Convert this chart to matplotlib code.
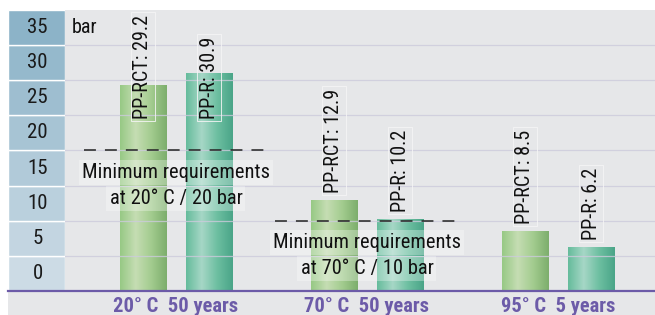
import numpy as np
import matplotlib
matplotlib.use("Agg")
import matplotlib.pyplot as plt
from matplotlib.colors import LinearSegmentedColormap
from matplotlib.patches import Rectangle

plt.rcParams['font.family'] = ['Roboto Condensed', 'DejaVu Sans']

### data
groups = ["20° C  50 years", "70° C  50 years", "95° C  5 years"]
pp_rct = [29.2, 12.9, 8.5]
pp_r = [30.9, 10.2, 6.2]
req_values = [20, 10]
req_labels = ["Minimum requirements\nat 20° C / 20 bar",
              "Minimum requirements\nat 70° C / 10 bar"]
band_ticks = [0, 5, 10, 15, 20, 25, 30, 35]
unit = "bar"

### colours
bg_gray = "#e6e7e9"
purple = "#6c5ba8"
grid_col = "#cccbdc"
cmap_rct = LinearSegmentedColormap.from_list(
    "rct", ["#97c985", "#c5ddb3", "#a3cc8f", "#7dae6d"])
cmap_r = LinearSegmentedColormap.from_list(
    "r", ["#66bc9c", "#a6d7c6", "#6dbfa1", "#4aa588"])
band_top = np.array([0x8c, 0xb3, 0xc8]) / 255
band_bot = np.array([0xcc, 0xdb, 0xe5]) / 255

W, H = 655, 315
fig = plt.figure(figsize=(W / 100, H / 100), dpi=100)
fig.patch.set_facecolor("white")

# gray panel behind everything (below the white top/left margins)
fig.add_artist(Rectangle((8 / W, 0), (W - 8) / W, (H - 10) / H,
                         transform=fig.transFigure, fc=bg_gray, ec="none", zorder=0))

y0, y1 = 291, 10          # pixel rows of baseline and top
ax = fig.add_axes([65 / W, (H - y0) / H, (W - 65) / W, (y0 - y1) / H])
band = fig.add_axes([8 / W, (H - y0) / H, 57 / W, (y0 - y1) / H])

ymax = 40
x = np.arange(len(groups))
off = 0.173
bw = 0.241

ax.set_facecolor(bg_gray)
ax.set_xlim(-0.581, 2.508)
ax.set_ylim(0, ymax)
for s in ax.spines.values():
    s.set_visible(False)
ax.set_xticks([])
ax.set_yticks([])

grad = np.linspace(0, 1, 64).reshape(1, -1)


def gradient_bar(xc, h, cmap):
    ax.imshow(grad, cmap=cmap, aspect="auto", zorder=2,
              extent=(xc - bw / 2, xc + bw / 2, 0, h))


def bar_label(xc, txt, v):
    ax.text(xc, min(v + 1.1, 24.5), txt, rotation=90, ha="center", va="bottom",
            fontsize=14.5, color="#111111", zorder=5,
            bbox=dict(boxstyle="square,pad=0.12", fc="none", ec="#f5f5f5", lw=0.6))


for i in range(len(groups)):
    gradient_bar(x[i] - off, pp_rct[i], cmap_rct)
    gradient_bar(x[i] + off, pp_r[i], cmap_r)
    bar_label(x[i] - off, f"PP-RCT: {pp_rct[i]}", pp_rct[i])
    bar_label(x[i] + off, f"PP-R: {pp_r[i]}", pp_r[i])

# grid lines (drawn over the bars, faint)
for t in band_ticks[1:]:
    ax.axhline(t, color=grid_col, lw=0.9, alpha=0.8, zorder=3)

# minimum requirement lines and notes
for i, (rv, lab) in enumerate(zip(req_values, req_labels)):
    ax.plot([x[i] - 0.48, x[i] + 0.47], [rv, rv], color="#222222", lw=1.1,
            linestyle=(0, (7.8, 5.9)), zorder=4)
    l1, l2 = lab.split("\n")
    ax.text(x[i], rv - 3.1, l1, ha="center", va="center", fontsize=14.8,
            color="#111111", zorder=5,
            bbox=dict(boxstyle="square,pad=0.15", fc="white", alpha=0.3, ec="none"))
    ax.text(x[i], rv - 6.8, l2, ha="center", va="center", fontsize=14.8,
            color="#111111", zorder=5,
            bbox=dict(boxstyle="square,pad=0.15", fc="white", alpha=0.3, ec="none"))

# unit label
ax.text(0.012, 37.5, unit, ha="left", va="center", fontsize=14.5, color="#111111",
        transform=ax.get_yaxis_transform())

# baseline
fig.add_artist(plt.Line2D([8 / W, 1], [(H - y0) / H] * 2, color=purple, lw=1.6,
                          transform=fig.transFigure, zorder=6))

# group labels below the baseline
for i, g in enumerate(groups):
    ax.text(x[i], -2.2, g, ha="center", va="center", fontsize=14.8,
            fontweight="bold", color=purple, clip_on=False)

# blue scale band on the left
band.set_xlim(0, 1)
band.set_ylim(0, ymax)
band.axis("off")
for t in band_ticks:
    frac = t / band_ticks[-1]
    col = band_bot + (band_top - band_bot) * frac
    band.add_patch(Rectangle((0, t), 1, 5, fc=col, ec="white", lw=1.0))
    band.text(0.52, t + 2.5, str(t), ha="center", va="center", fontsize=15,
              color="#1a1a1a")

fig.savefig("out.png", dpi=100)
